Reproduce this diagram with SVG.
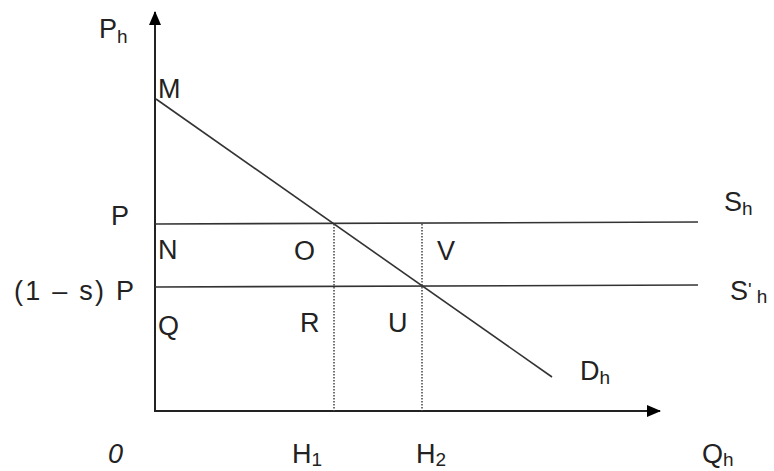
<svg xmlns="http://www.w3.org/2000/svg" width="774" height="471" viewBox="0 0 774 471">
<defs>
<marker id="arr" markerWidth="14" markerHeight="12" refX="13" refY="6" orient="auto" markerUnits="userSpaceOnUse">
<path d="M0,0 L14,6 L0,12 Z" fill="#000"/>
</marker>
<style>
text{font-family:"Liberation Sans",Arial,sans-serif;font-size:27px;fill:#222}
.ax{stroke:#222;stroke-width:2;fill:none}
.ln{stroke:#333;stroke-width:1.6;fill:none}
.dot{stroke:#444;stroke-width:1.5;stroke-dasharray:1.5,1.5;fill:none}
.sub{font-size:19px}
</style>
</defs>
<rect width="774" height="471" fill="#fff"/>
<g id="connectors">
<line class="ax" x1="155" y1="411" x2="155" y2="12" marker-end="url(#arr)"/>
<line class="ax" x1="154" y1="411" x2="660" y2="411" marker-end="url(#arr)"/>
<line class="ln" x1="155" y1="224" x2="698" y2="222"/>
<line class="ln" x1="155" y1="287" x2="698" y2="285"/>
<line class="ln" x1="156" y1="99" x2="552" y2="377"/>
<line class="dot" x1="334" y1="224" x2="334" y2="411"/>
<line class="dot" x1="422" y1="224" x2="422" y2="411"/>
</g>
<g id="labels">
<text x="99" y="38">P<tspan class="sub" dy="5">h</tspan></text>
<text x="158" y="98">M</text>
<text x="111" y="225">P</text>
<text x="158" y="259">N</text>
<text x="14" y="300" textLength="120">(1 – s) P</text>
<text x="158" y="335">Q</text>
<text x="294" y="260">O</text>
<text x="300" y="332">R</text>
<text x="388" y="332">U</text>
<text x="437" y="260">V</text>
<text x="724" y="211">S<tspan class="sub" dy="4">h</tspan></text>
<text x="730" y="300">S<tspan class="sub" dy="-4">'</tspan><tspan class="sub" dy="7" dx="5">h</tspan></text>
<text x="580" y="380">D<tspan class="sub" dy="4">h</tspan></text>
<text x="108" y="463" font-style="italic">0</text>
<text x="292" y="463">H<tspan class="sub" dy="3">1</tspan></text>
<text x="416" y="463">H<tspan class="sub" dy="3">2</tspan></text>
<text x="702" y="463">Q<tspan class="sub" dy="3">h</tspan></text>
</g>
</svg>
